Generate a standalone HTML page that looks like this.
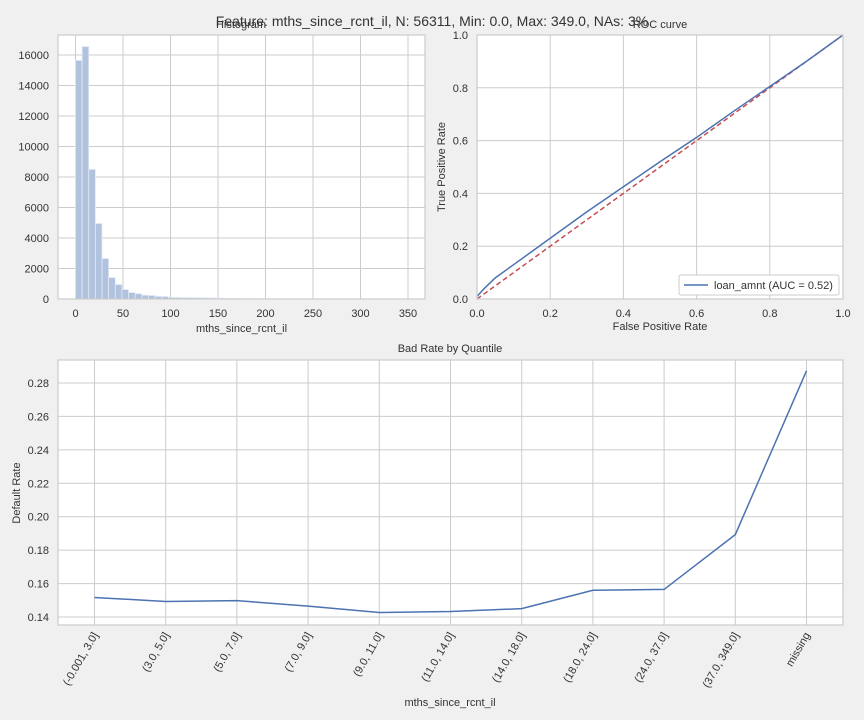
<!DOCTYPE html>
<html><head><meta charset="utf-8"><style>
html,body{margin:0;padding:0;background:#f0f0f0;}
svg{display:block;font-family:"Liberation Sans",Arial,sans-serif;}
</style></head><body>
<svg id="c" width="864" height="720" xmlns="http://www.w3.org/2000/svg">
<rect width="864" height="720" fill="#f0f0f0"/>
</svg>
<script>
// ---- Histogram data ----
const histBinWidth = 6.98;
const histCounts = [15650,16550,8500,4950,2650,1400,950,620,420,350,250,230,170,160,110,100,90,90,80,80,70,60,50,40,30,25,20,15,12,10,8,6,5,4,3,3,2,2,2,1,1,1,1,1,1,1,1,1,1,1];
const histXTicks = [0,50,100,150,200,250,300,350];
const histYTicks = [0,2000,4000,6000,8000,10000,12000,14000,16000];
// ---- ROC data ----
const rocFpr = [0,0.02,0.05,0.1,0.15,0.2,0.3,0.4,0.5,0.6,0.7,0.8,0.9,1];
const rocTpr = [0.01,0.04,0.08,0.13,0.18,0.23,0.33,0.425,0.52,0.612,0.71,0.805,0.9,1];
const rocTicks = [0,0.2,0.4,0.6,0.8,1.0];
// ---- Bad rate data ----
const quantCats = ["(-0.001, 3.0]","(3.0, 5.0]","(5.0, 7.0]","(7.0, 9.0]","(9.0, 11.0]","(11.0, 14.0]","(14.0, 18.0]","(18.0, 24.0]","(24.0, 37.0]","(37.0, 349.0]","missing"];
const quantRates = [0.1517,0.1493,0.1498,0.1465,0.1427,0.1433,0.1450,0.1560,0.1565,0.1893,0.2873];
const rateTicks = [0.14,0.16,0.18,0.20,0.22,0.24,0.26,0.28];

const svg=document.getElementById('c');
const NS='http://www.w3.org/2000/svg';
function mk(tag,attrs,parent){const e=document.createElementNS(NS,tag);for(const k in attrs)e.setAttribute(k,attrs[k]);(parent||svg).appendChild(e);return e;}
function txt(s,attrs,parent){const e=mk('text',attrs,parent);e.textContent=s;return e;}

function axesFrame(x0,y0,x1,y1,name){
  const g=mk('g',{});
  
  
  mk('rect',{x:x0,y:y0,width:x1-x0,height:y1-y0,fill:'#fff'},g);
  return g;
}

// ===== Histogram =====
{
const X0=58,X1=425,Y0=35,Y1=299;
const sx=v=>75.5+v*(408-75.5)/350, sy=v=>299-v*244/16000;
const g=axesFrame(X0,Y0,X1,Y1,'histogram-panel');
histXTicks.forEach(t=>{mk('line',{x1:sx(t),x2:sx(t),y1:Y0,y2:Y1,stroke:'#ccc','stroke-width':1},g);
 const l=txt(String(t),{x:sx(t),y:Y1+18,'font-size':11,fill:'#333','text-anchor':'middle'},g);
 });
histYTicks.forEach(t=>{mk('line',{x1:X0,x2:X1,y1:sy(t),y2:sy(t),stroke:'#ccc','stroke-width':1},g);
 const l=txt(String(t),{x:X0-9,y:sy(t)+4,'font-size':11,fill:'#333','text-anchor':'end'},g);
 });
histCounts.forEach((c,i)=>{const b=mk('rect',{x:sx(i*histBinWidth),y:sy(c),width:sx((i+1)*histBinWidth)-sx(i*histBinWidth),height:299-sy(c),fill:'#b1c2df',stroke:'#e4eaf4','stroke-width':0.8},g);
 });
mk('rect',{x:X0,y:Y0,width:X1-X0,height:Y1-Y0,fill:'none',stroke:'#ccc','stroke-width':1.2},g);
const xt=txt('mths_since_rcnt_il',{x:(X0+X1)/2,y:332,'font-size':11,fill:'#333','text-anchor':'middle'},g);

const tt=txt('Histogram',{x:241,y:28,'font-size':11,fill:'#333','text-anchor':'middle'},g);

}

// ===== ROC =====
{
const X0=477,X1=843,Y0=35,Y1=299;
const sx=v=>X0+v*(X1-X0), sy=v=>Y1-v*(Y1-Y0);
const g=axesFrame(X0,Y0,X1,Y1,'roc-panel');
rocTicks.forEach(t=>{mk('line',{x1:sx(t),x2:sx(t),y1:Y0,y2:Y1,stroke:'#ccc'},g);mk('line',{x1:X0,x2:X1,y1:sy(t),y2:sy(t),stroke:'#ccc'},g);
 const a=txt(t.toFixed(1),{x:sx(t),y:Y1+18,'font-size':11,fill:'#333','text-anchor':'middle'},g);
 
 const b=txt(t.toFixed(1),{x:X0-9,y:sy(t)+4,'font-size':11,fill:'#333','text-anchor':'end'},g);
 });
const d=mk('line',{x1:sx(0),y1:sy(0),x2:sx(1),y2:sy(1),stroke:'#c44e52','stroke-width':1.5,'stroke-dasharray':'5,3'},g);

const p=mk('polyline',{points:rocFpr.map((f,i)=>sx(f)+','+sy(rocTpr[i])).join(' '),fill:'none',stroke:'#4c72b0','stroke-width':1.5},g);

mk('rect',{x:X0,y:Y0,width:X1-X0,height:Y1-Y0,fill:'none',stroke:'#ccc','stroke-width':1.2},g);
const lg=mk('g',{},g);
mk('rect',{x:679,y:275,width:160,height:20,fill:'#fff',stroke:'#ccc',rx:2},lg);
mk('line',{x1:684,x2:708,y1:285,y2:285,stroke:'#4c72b0','stroke-width':1.5},lg);
txt('loan_amnt (AUC = 0.52)',{x:714,y:289,'font-size':11,fill:'#333'},lg);
const xt=txt('False Positive Rate',{x:660,y:330,'font-size':11,fill:'#333','text-anchor':'middle'},g);

const yt=txt('True Positive Rate',{x:0,y:0,'font-size':11,fill:'#333','text-anchor':'middle',transform:'translate(445,167) rotate(-90)'},g);

const tt=txt('ROC curve',{x:660,y:28,'font-size':11,fill:'#333','text-anchor':'middle'},g);

}

// ===== Bad rate =====
{
const X0=58,X1=843,Y0=360,Y1=625;
const sx=i=>94.5+i*(806.5-94.5)/(quantCats.length-1), sy=v=>617-(v-0.14)*234/0.14;
const g=axesFrame(X0,Y0,X1,Y1,'bad-rate-panel');
quantCats.forEach((c,i)=>{mk('line',{x1:sx(i),x2:sx(i),y1:Y0,y2:Y1,stroke:'#ccc'},g);
 const l=txt(c,{x:0,y:0,'font-size':11,fill:'#333','text-anchor':'end',transform:`translate(${sx(i)+4},${Y1+10}) rotate(-60)`},g);
 });
rateTicks.forEach(t=>{mk('line',{x1:X0,x2:X1,y1:sy(t),y2:sy(t),stroke:'#ccc'},g);
 const l=txt(t.toFixed(2),{x:X0-9,y:sy(t)+4,'font-size':11,fill:'#333','text-anchor':'end'},g);
 });
const p=mk('polyline',{points:quantRates.map((r,i)=>sx(i)+','+sy(r)).join(' '),fill:'none',stroke:'#4c72b0','stroke-width':1.5},g);

mk('rect',{x:X0,y:Y0,width:X1-X0,height:Y1-Y0,fill:'none',stroke:'#ccc','stroke-width':1.2},g);
const xt=txt('mths_since_rcnt_il',{x:450,y:706,'font-size':11,fill:'#333','text-anchor':'middle'},g);

const yt=txt('Default Rate',{x:0,y:0,'font-size':11,fill:'#333','text-anchor':'middle',transform:'translate(20,493) rotate(-90)'},g);

const tt=txt('Bad Rate by Quantile',{x:450,y:352,'font-size':11,fill:'#333','text-anchor':'middle'},g);

}

const st=txt('Feature: mths_since_rcnt_il, N: 56311, Min: 0.0, Max: 349.0, NAs: 3%',{x:432,y:26,'font-size':14,fill:'#333','text-anchor':'middle'});

</script>
</body></html>
